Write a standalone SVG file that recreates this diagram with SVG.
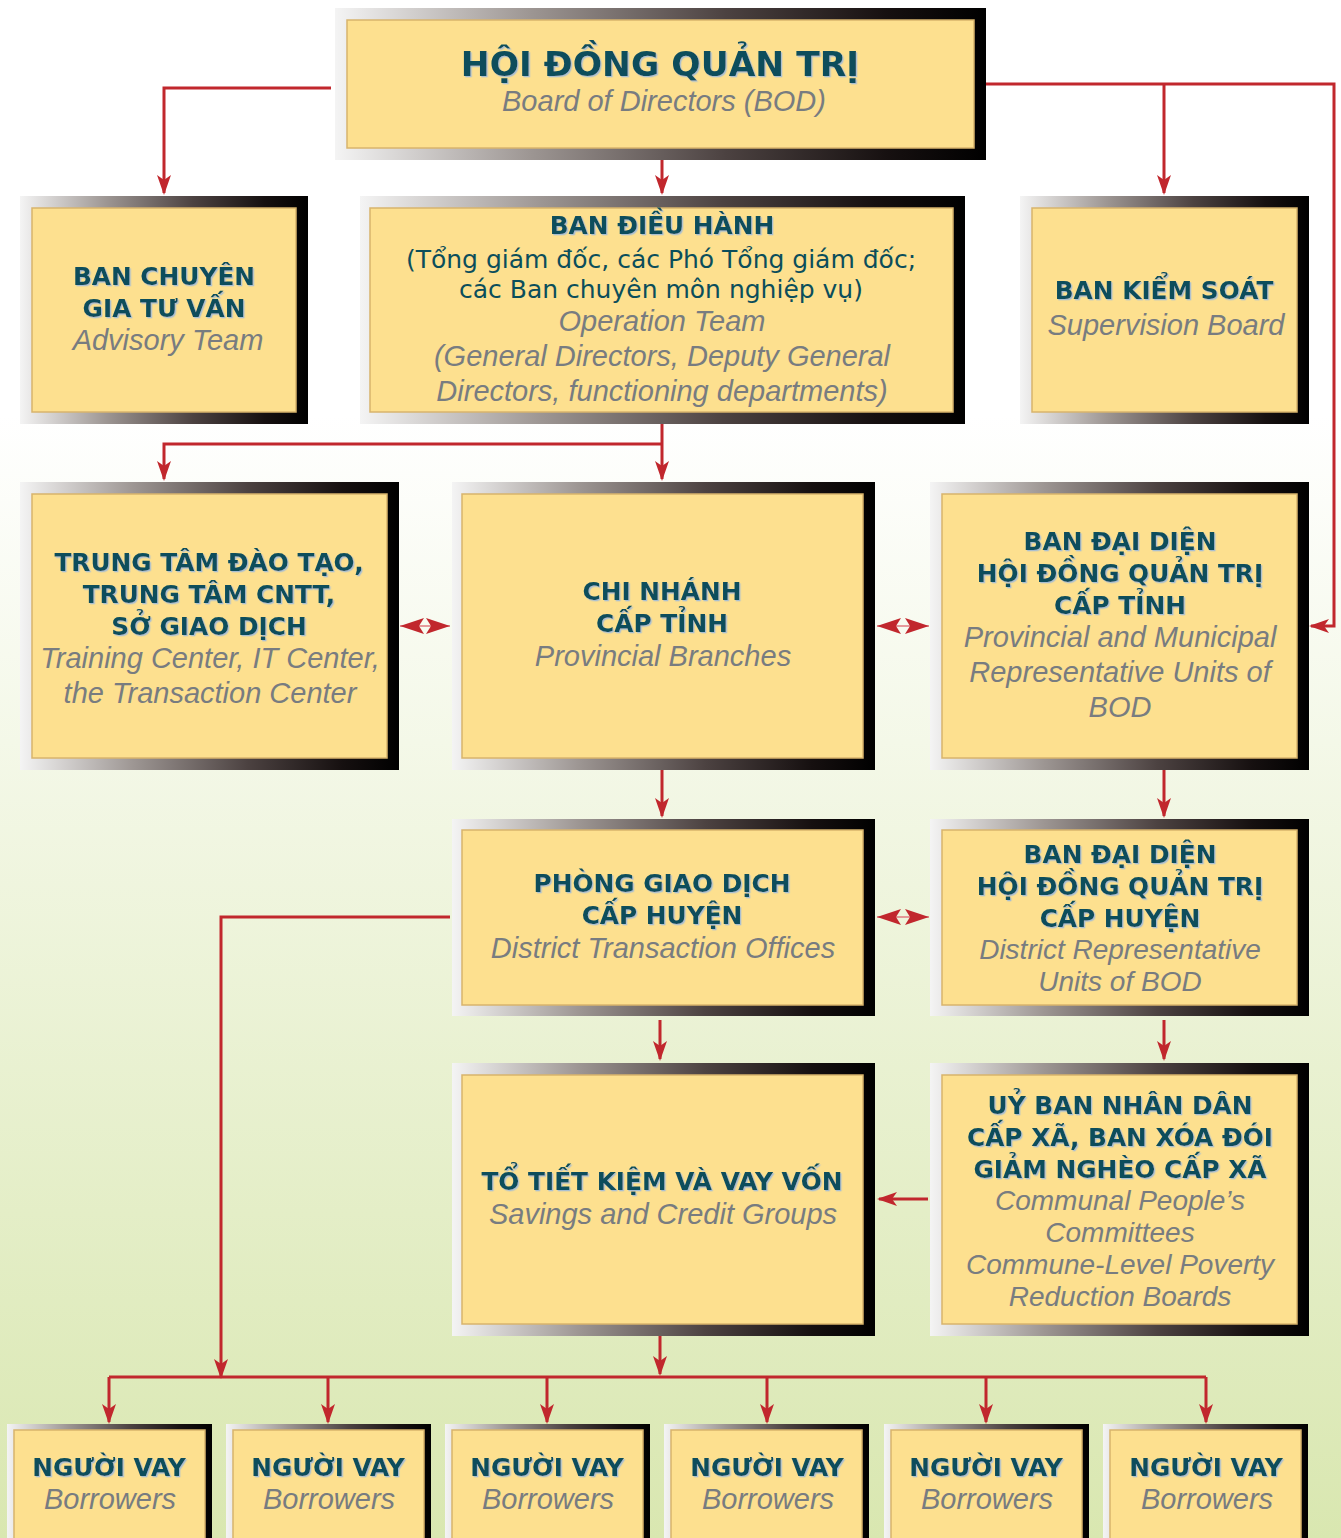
<svg xmlns="http://www.w3.org/2000/svg" width="1341" height="1538" viewBox="0 0 1341 1538">
<defs>
<linearGradient id="bg" x1="0" y1="0" x2="0" y2="1">
<stop offset="0" stop-color="#ffffff"/>
<stop offset="0.27" stop-color="#ffffff"/>
<stop offset="1" stop-color="#d9e7b0"/>
</linearGradient>
<linearGradient id="fr" x1="0" y1="0" x2="1" y2="0">
<stop offset="0" stop-color="#f4f4f4"/>
<stop offset="0.3" stop-color="#9d9693"/>
<stop offset="0.6" stop-color="#4c4241"/>
<stop offset="0.85" stop-color="#161010"/>
<stop offset="1" stop-color="#000000"/>
</linearGradient>
<filter id="sh" x="-5%" y="-20%" width="110%" height="140%">
<feDropShadow dx="1.3" dy="1.3" stdDeviation="0" flood-color="#a9bfd2"/>
</filter>
<marker id="ah" viewBox="0 0 20 14" refX="18" refY="7" markerWidth="20" markerHeight="14" markerUnits="userSpaceOnUse" orient="auto">
<path d="M0,0 L20,7 L0,14 L5,7 Z" fill="#c1272d"/>
</marker>
<marker id="dh" viewBox="0 0 24 16" refX="24" refY="8" markerWidth="24" markerHeight="16" markerUnits="userSpaceOnUse" orient="auto">
<path d="M0,0 L24,8 L0,16 L5,8 Z" fill="#c1272d"/>
</marker>
<style>
.frame{fill:url(#fr)}
.inner{fill:#fde08f;stroke:#d8b46c;stroke-width:1.5}
.t{font-family:"DejaVu Sans","Noto Sans",sans-serif;font-weight:bold;font-size:24.8px;fill:#0b4e5b;text-anchor:middle;filter:url(#sh)}
.r{font-family:"DejaVu Sans","Noto Sans",sans-serif;font-size:25px;fill:#0b4e5b;text-anchor:middle}
.i{font-family:"Liberation Sans",Arial,sans-serif;font-style:italic;font-size:29px;fill:#787c80;text-anchor:middle}
.s{font-size:28px}
.c{fill:none;stroke:#c1272d;stroke-width:3}
.d{fill:none;stroke:#e07a80;stroke-width:1.5}
</style>
</defs>
<rect x="0" y="0" width="1341" height="1538" fill="url(#bg)"/>

<g id="connectors">
<path class="c" d="M331,88 H164 V193" marker-end="url(#ah)"/>
<path class="c" d="M662,160 V193" marker-end="url(#ah)"/>
<path class="c" d="M986,84 H1334 V626 H1311" marker-end="url(#ah)"/>
<path class="c" d="M1164,84 V193" marker-end="url(#ah)"/>
<path class="c" d="M662,424 V479" marker-end="url(#ah)"/>
<path class="c" d="M662,444 H164 V479" marker-end="url(#ah)"/>
<path class="d" d="M425,626 H400" marker-end="url(#dh)"/>
<path class="d" d="M425,626 H450" marker-end="url(#dh)"/>
<path class="d" d="M903,626 H877" marker-end="url(#dh)"/>
<path class="d" d="M903,626 H929" marker-end="url(#dh)"/>
<path class="c" d="M662,770 V816" marker-end="url(#ah)"/>
<path class="c" d="M1164,770 V816" marker-end="url(#ah)"/>
<path class="d" d="M903,917 H877" marker-end="url(#dh)"/>
<path class="d" d="M903,917 H929" marker-end="url(#dh)"/>
<path class="c" d="M450,917 H221 V1377" marker-end="url(#ah)"/>
<path class="c" d="M660,1020 V1059" marker-end="url(#ah)"/>
<path class="c" d="M1164,1020 V1059" marker-end="url(#ah)"/>
<path class="c" d="M928,1199 H879" stroke-width="4" marker-end="url(#ah)"/>
<path class="c" d="M660,1336 V1374" marker-end="url(#ah)"/>
<path class="c" d="M109,1377 H1206"/>
<path class="c" d="M109,1377 V1422" marker-end="url(#ah)"/>
<path class="c" d="M328,1377 V1422" marker-end="url(#ah)"/>
<path class="c" d="M547,1377 V1422" marker-end="url(#ah)"/>
<path class="c" d="M767,1377 V1422" marker-end="url(#ah)"/>
<path class="c" d="M986,1377 V1422" marker-end="url(#ah)"/>
<path class="c" d="M1206,1377 V1422" marker-end="url(#ah)"/>
</g>

<g id="bod">
<rect class="frame" x="335" y="8" width="651" height="152"/>
<rect class="inner" x="347" y="20" width="627" height="128"/>
<text class="t" x="660" y="76" style="font-size:34.5px">HỘI ĐỒNG QUẢN TRỊ</text>
<text class="i" x="664" y="111">Board of Directors (BOD)</text>
</g>

<g id="advisory">
<rect class="frame" x="20" y="196" width="288" height="228"/>
<rect class="inner" x="32" y="208" width="264" height="204"/>
<text class="t" x="164" y="285">BAN CHUYÊN</text>
<text class="t" x="164" y="317">GIA TƯ VẤN</text>
<text class="i" x="168" y="350">Advisory Team</text>
</g>

<g id="operation">
<rect class="frame" x="360" y="196" width="605" height="228"/>
<rect class="inner" x="370" y="208" width="583" height="204"/>
<text class="t" x="662" y="234">BAN ĐIỀU HÀNH</text>
<text class="r" x="661" y="268">(Tổng giám đốc, các Phó Tổng giám đốc;</text>
<text class="r" x="661" y="298">các Ban chuyên môn nghiệp vụ)</text>
<text class="i" x="662" y="331">Operation Team</text>
<text class="i" x="662" y="366">(General Directors, Deputy General</text>
<text class="i" x="662" y="401">Directors, functioning departments)</text>
</g>

<g id="supervision">
<rect class="frame" x="1020" y="196" width="289" height="228"/>
<rect class="inner" x="1032" y="208" width="265" height="204"/>
<text class="t" x="1164" y="299">BAN KIỂM SOÁT</text>
<text class="i" x="1166" y="335">Supervision Board</text>
</g>

<g id="training">
<rect class="frame" x="20" y="482" width="379" height="288"/>
<rect class="inner" x="32" y="494" width="355" height="264"/>
<text class="t" x="209" y="571">TRUNG TÂM ĐÀO TẠO,</text>
<text class="t" x="209" y="603">TRUNG TÂM CNTT,</text>
<text class="t" x="209" y="635">SỞ GIAO DỊCH</text>
<text class="i" x="210" y="668">Training Center, IT Center,</text>
<text class="i" x="210" y="703">the Transaction Center</text>
</g>

<g id="branches">
<rect class="frame" x="452" y="482" width="423" height="288"/>
<rect class="inner" x="462" y="494" width="401" height="264"/>
<text class="t" x="662" y="600">CHI NHÁNH</text>
<text class="t" x="662" y="632">CẤP TỈNH</text>
<text class="i" x="663" y="666">Provincial Branches</text>
</g>

<g id="prov-rep">
<rect class="frame" x="930" y="482" width="379" height="288"/>
<rect class="inner" x="942" y="494" width="355" height="264"/>
<text class="t" x="1120" y="550">BAN ĐẠI DIỆN</text>
<text class="t" x="1120" y="582">HỘI ĐỒNG QUẢN TRỊ</text>
<text class="t" x="1120" y="614">CẤP TỈNH</text>
<text class="i" x="1120" y="647">Provincial and Municipal</text>
<text class="i" x="1120" y="682">Representative Units of</text>
<text class="i" x="1120" y="717">BOD</text>
</g>

<g id="district-offices">
<rect class="frame" x="452" y="819" width="423" height="197"/>
<rect class="inner" x="462" y="830" width="401" height="175"/>
<text class="t" x="662" y="892">PHÒNG GIAO DỊCH</text>
<text class="t" x="662" y="924">CẤP HUYỆN</text>
<text class="i" x="663" y="958">District Transaction Offices</text>
</g>

<g id="district-rep">
<rect class="frame" x="930" y="819" width="379" height="197"/>
<rect class="inner" x="942" y="830" width="355" height="175"/>
<text class="t" x="1120" y="863">BAN ĐẠI DIỆN</text>
<text class="t" x="1120" y="895">HỘI ĐỒNG QUẢN TRỊ</text>
<text class="t" x="1120" y="927">CẤP HUYỆN</text>
<text class="i s" x="1120" y="959">District Representative</text>
<text class="i s" x="1120" y="991">Units of BOD</text>
</g>

<g id="savings">
<rect class="frame" x="452" y="1063" width="423" height="273"/>
<rect class="inner" x="462" y="1075" width="401" height="249"/>
<text class="t" x="662" y="1190">TỔ TIẾT KIỆM VÀ VAY VỐN</text>
<text class="i" x="663" y="1224">Savings and Credit Groups</text>
</g>

<g id="commune">
<rect class="frame" x="930" y="1063" width="379" height="273"/>
<rect class="inner" x="942" y="1075" width="355" height="249"/>
<text class="t" x="1120" y="1114">UỶ BAN NHÂN DÂN</text>
<text class="t" x="1120" y="1146">CẤP XÃ, BAN XÓA ĐÓI</text>
<text class="t" x="1120" y="1178">GIẢM NGHÈO CẤP XÃ</text>
<text class="i s" x="1120" y="1210">Communal People’s</text>
<text class="i s" x="1120" y="1242">Committees</text>
<text class="i s" x="1120" y="1274">Commune-Level Poverty</text>
<text class="i s" x="1120" y="1306">Reduction Boards</text>
</g>

<g id="borrower-1">
<rect class="frame" x="7" y="1424" width="205" height="130"/>
<rect class="inner" x="14" y="1430" width="191" height="124"/>
<text class="t" x="109" y="1476">NGƯỜI VAY</text>
<text class="i" x="110" y="1509">Borrowers</text>
</g>
<g id="borrower-2">
<rect class="frame" x="226" y="1424" width="205" height="130"/>
<rect class="inner" x="233" y="1430" width="191" height="124"/>
<text class="t" x="328" y="1476">NGƯỜI VAY</text>
<text class="i" x="329" y="1509">Borrowers</text>
</g>
<g id="borrower-3">
<rect class="frame" x="445" y="1424" width="205" height="130"/>
<rect class="inner" x="452" y="1430" width="191" height="124"/>
<text class="t" x="547" y="1476">NGƯỜI VAY</text>
<text class="i" x="548" y="1509">Borrowers</text>
</g>
<g id="borrower-4">
<rect class="frame" x="664" y="1424" width="205" height="130"/>
<rect class="inner" x="671" y="1430" width="191" height="124"/>
<text class="t" x="767" y="1476">NGƯỜI VAY</text>
<text class="i" x="768" y="1509">Borrowers</text>
</g>
<g id="borrower-5">
<rect class="frame" x="884" y="1424" width="205" height="130"/>
<rect class="inner" x="891" y="1430" width="191" height="124"/>
<text class="t" x="986" y="1476">NGƯỜI VAY</text>
<text class="i" x="987" y="1509">Borrowers</text>
</g>
<g id="borrower-6">
<rect class="frame" x="1103" y="1424" width="205" height="130"/>
<rect class="inner" x="1110" y="1430" width="191" height="124"/>
<text class="t" x="1206" y="1476">NGƯỜI VAY</text>
<text class="i" x="1207" y="1509">Borrowers</text>
</g>
</svg>
